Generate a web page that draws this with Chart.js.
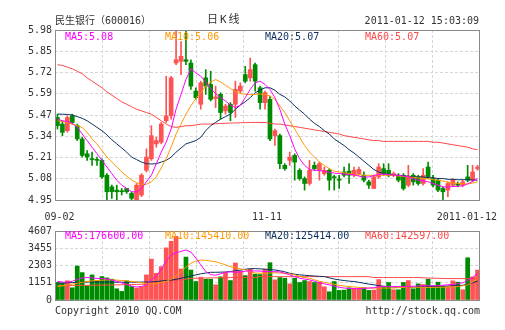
<!DOCTYPE html>
<html>
<head>
<meta charset="utf-8">
<script src="https://cdn.jsdelivr.net/npm/chart.js@4.4.1/dist/chart.umd.min.js"></script>
<style>
  body { margin: 0; width: 505px; height: 330px; overflow: hidden; position: relative; background: #fff;
         font: 10px 'DejaVu Sans Mono', 'Noto Sans CJK SC', monospace; color: #333; }
  canvas { position: absolute; left: 0; }
  #kline { top: 0; }
  #vol { top: 220px; }
  .t { position: absolute; white-space: nowrap; line-height: 12px; }
</style>
</head>
<body>
<canvas id="kline" width="505" height="225"></canvas>
<canvas id="vol" width="505" height="110"></canvas>

<div class="t" style="left:55px;top:15px;">民生银行（600016）</div>
<div class="t" style="left:207px;top:14px;font-size:11px;letter-spacing:2px;">日K线</div>
<div class="t" style="right:26px;top:15px;">2011-01-12 15:03:09</div>
<div class="t" style="left:55px;top:305px;">Copyright 2010 QQ.COM</div>
<div class="t" style="right:25px;top:305px;">http://stock.qq.com</div>
<div id="legendK"></div>
<div id="legendV"></div>

<script>
// trading days 2010-09-02 .. 2011-01-12
const dates = [
  '09-02','09-03','09-06','09-07','09-08','09-09','09-10','09-13','09-14','09-15',
  '09-16','09-17','09-20','09-21','09-27','09-28','09-29','09-30','10-08','10-11',
  '10-12','10-13','10-14','10-15','10-18','10-19','10-20','10-21','10-22','10-25',
  '10-26','10-27','10-28','10-29','11-01','11-02','11-03','11-04','11-05','11-08',
  '11-09','11-10','11-11','11-12','11-15','11-16','11-17','11-18','11-19','11-22',
  '11-23','11-24','11-25','11-26','11-29','11-30','12-01','12-02','12-03','12-06',
  '12-07','12-08','12-09','12-10','12-13','12-14','12-15','12-16','12-17','12-20',
  '12-21','12-22','12-23','12-24','12-27','12-28','12-29','12-30','12-31','01-04',
  '01-05','01-06','01-07','01-10','01-11','01-12'
];

const open = [
  5.45,5.41,5.37,5.46,5.40,5.32,5.23,5.20,5.195,5.19, 5.10,5.03,5.01,5.005,5.02,4.99,4.95,4.98,5.13,5.20,
  5.29,5.30,5.43,5.46,5.78,5.79,5.80,5.78,5.61,5.53, 5.69,5.65,5.565,5.59,5.49,5.53,5.53,5.61,5.71,5.69,
  5.77,5.63,5.54,5.56,5.34,5.34,5.16,5.19,5.22,5.13, 5.08,5.05,5.16,5.13,5.11,5.13,5.09,5.075,5.12,5.125,
  5.10,5.11,5.10,5.06,5.02,5.09,5.14,5.13,5.10,5.10, 5.10,5.04,5.10,5.09,5.05,5.15,5.08,5.07,5.02,5.01,
  5.04,5.05,5.04,5.09,5.07,5.14
];
const high = [
  5.47,5.43,5.46,5.47,5.41,5.33,5.25,5.24,5.21,5.20, 5.11,5.04,5.04,5.02,5.02,5.00,5.05,5.11,5.26,5.40,
  5.33,5.42,5.70,5.70,5.98,5.91,5.98,5.80,5.63,5.67, 5.74,5.73,5.64,5.60,5.53,5.54,5.67,5.66,5.76,5.81,
  5.78,5.64,5.61,5.58,5.38,5.35,5.17,5.24,5.23,5.14, 5.09,5.19,5.18,5.18,5.15,5.14,5.10,5.10,5.15,5.17,
  5.15,5.15,5.12,5.07,5.10,5.17,5.17,5.17,5.12,5.11, 5.11,5.16,5.11,5.10,5.14,5.18,5.10,5.08,5.03,5.06,
  5.08,5.06,5.07,5.16,5.16,5.16
];
const low = [
  5.38,5.34,5.36,5.41,5.31,5.21,5.19,5.16,5.16,5.08, 4.95,4.96,4.95,4.98,4.99,4.95,4.95,4.97,5.12,5.19,
  5.27,5.29,5.42,5.44,5.77,5.71,5.77,5.62,5.56,5.50, 5.59,5.55,5.51,5.44,5.47,5.43,5.45,5.60,5.66,5.67,
  5.61,5.50,5.50,5.31,5.28,5.14,5.13,5.16,5.07,5.07, 5.01,5.04,5.13,5.07,5.10,5.01,5.01,5.02,5.09,5.05,
  5.09,5.10,5.06,5.02,5.02,5.08,5.10,5.09,5.09,5.06, 5.01,5.03,5.04,5.04,5.04,5.08,5.03,5.00,4.95,4.97,
  5.03,5.03,5.03,5.06,5.06,5.13
];
const close = [
  5.40,5.36,5.45,5.42,5.32,5.22,5.21,5.195,5.19,5.09, 5.00,5.00,5.00,5.00,5.00,4.96,5.04,5.10,5.21,5.34,
  5.31,5.41,5.46,5.69,5.80,5.82,5.79,5.64,5.57,5.66, 5.64,5.56,5.575,5.48,5.52,5.48,5.62,5.64,5.67,5.74,
  5.67,5.54,5.60,5.32,5.37,5.17,5.14,5.21,5.18,5.08, 5.05,5.13,5.14,5.17,5.13,5.07,5.085,5.07,5.10,5.10,
  5.13,5.135,5.07,5.04,5.09,5.15,5.11,5.10,5.11,5.07, 5.02,5.09,5.06,5.05,5.10,5.09,5.04,5.01,5.00,5.05,
  5.07,5.04,5.06,5.07,5.12,5.15
];

// volume, 100 lots
const volume = [
  1170,1120,1280,815,2270,1830,950,1675,1280,1565, 1475,1390,750,575,1280,900,795,900,1675,2730,
  1785,2225,3480,3920,4250,2070,2865,2000,1235,1520, 1390,1390,1015,1545,1830,1300,2470,1940,1630,2050,
  1720,1700,2050,2490,1345,1500,1455,1080,1455,1170, 1300,1235,1170,1190,880,550,1235,640,660,815,
  770,770,815,640,660,1365,860,1170,685,685, 1170,1300,750,1080,1035,1390,950,1190,925,880,
  1280,1190,685,2820,1545,2000
];

const ma5 = [
  5.44,5.43,5.425,5.415,5.39,5.35,5.31,5.27,5.23,5.19, 5.15,5.11,5.07,5.04,5.02,5.00,4.998,5.02,5.06,5.10,
  5.17,5.24,5.30,5.38,5.50,5.59,5.68,5.745,5.72,5.70, 5.665,5.625,5.595,5.57,5.55,5.525,5.51,5.525,5.57,5.62,
  5.66,5.67,5.65,5.62,5.57,5.50,5.41,5.34,5.26,5.20, 5.16,5.135,5.13,5.128,5.125,5.118,5.113,5.11,5.108,5.105,
  5.103,5.095,5.088,5.09,5.098,5.104,5.107,5.105,5.10,5.10, 5.095,5.09,5.078,5.07,5.065,5.06,5.05,5.04,5.03,5.028,
  5.032,5.033,5.036,5.048,5.062,5.08
];
const ma10 = [
  5.43,5.425,5.42,5.41,5.40,5.39,5.36,5.32,5.29,5.25, 5.21,5.18,5.15,5.12,5.095,5.07,5.055,5.045,5.045,5.06,
  5.09,5.145,5.20,5.27,5.35,5.41,5.47,5.52,5.565,5.60, 5.64,5.665,5.68,5.665,5.645,5.625,5.605,5.595,5.59,5.588,
  5.59,5.592,5.59,5.58,5.56,5.52,5.48,5.43,5.38,5.33, 5.28,5.24,5.21,5.18,5.16,5.14,5.125,5.12,5.115,5.11,
  5.105,5.105,5.10,5.10,5.10,5.10,5.10,5.10,5.10,5.095, 5.092,5.09,5.087,5.083,5.08,5.078,5.073,5.07,5.065,5.058,
  5.053,5.05,5.048,5.047,5.052,5.06
];
const ma20 = [
  5.47,5.47,5.468,5.465,5.455,5.445,5.43,5.41,5.39,5.37, 5.345,5.315,5.29,5.265,5.24,5.21,5.195,5.18,5.17,5.168,
  5.17,5.18,5.19,5.21,5.24,5.265,5.29,5.30,5.31,5.33, 5.37,5.40,5.42,5.44,5.455,5.47,5.50,5.525,5.545,5.57,
  5.60,5.615,5.63,5.63,5.615,5.59,5.575,5.55,5.52,5.495, 5.47,5.44,5.415,5.395,5.37,5.35,5.32,5.30,5.28,5.255,
  5.235,5.21,5.185,5.16,5.135,5.12,5.11,5.105,5.10,5.10, 5.095,5.095,5.09,5.09,5.09,5.085,5.085,5.08,5.08,5.075,
  5.075,5.073,5.073,5.073,5.072,5.07
];
const ma60 = [
  5.77,5.765,5.755,5.745,5.73,5.715,5.69,5.67,5.65,5.63, 5.605,5.585,5.565,5.545,5.53,5.515,5.50,5.49,5.48,5.47,
  5.45,5.43,5.41,5.395,5.39,5.395,5.40,5.40,5.405,5.41, 5.41,5.41,5.412,5.414,5.415,5.416,5.417,5.418,5.419,5.42,
  5.42,5.42,5.42,5.415,5.41,5.41,5.405,5.40,5.395,5.39, 5.385,5.38,5.375,5.37,5.365,5.36,5.355,5.35,5.34,5.335,
  5.33,5.325,5.32,5.315,5.31,5.31,5.305,5.305,5.305,5.305, 5.305,5.305,5.305,5.305,5.305,5.305,5.30,5.30,5.295,5.29,
  5.285,5.28,5.275,5.27,5.26,5.255
];

const vma5 = [
  1235,1200,1180,1250,1380,1480,1500,1470,1440,1430, 1400,1330,1250,1140,1050,930,870,900,1020,1350,
  1600,2050,2600,3000,3150,3250,3340,3200,2800,2350, 1900,1700,1650,1750,1850,1880,1850,1880,1920,1940,
  1940,1930,1900,1895,1890,1880,1780,1680,1560,1455, 1400,1345,1250,1150,1080,1015,930,850,800,770,
  750,760,780,795,820,880,905,905,905,905, 905,905,920,940,950,950,950,960,990,1015,
  1040,1080,1150,1300,1500,1766
];
const vma10 = [
  905,950,1000,1060,1120,1180,1240,1280,1300,1320, 1345,1345,1330,1300,1270,1240,1200,1150,1100,1080,
  1100,1180,1235,1400,1600,1900,2200,2450,2600,2665, 2650,2600,2555,2450,2350,2225,2150,2080,2005,1900,
  1800,1790,1785,1800,1820,1800,1785,1740,1680,1580, 1500,1455,1350,1250,1180,1125,1050,980,930,905,
  870,840,810,795,795,795,795,795,800,820, 840,860,860,850,840,840,845,850,860,860,
  870,900,950,1015,1200,1454
];
const vma20 = [
  1125,1140,1150,1160,1170,1190,1200,1210,1210,1200, 1200,1195,1190,1190,1190,1190,1190,1195,1200,1210,
  1230,1270,1300,1330,1380,1455,1530,1600,1675,1750, 1800,1850,1850,1860,1870,1900,1950,2000,2050,2095,
  2095,2080,2060,2030,2005,1950,1880,1785,1720,1680, 1650,1630,1600,1580,1565,1480,1400,1345,1300,1260,
  1235,1180,1120,1060,1015,960,920,890,860,860, 860,860,860,870,880,890,905,910,920,935,
  950,960,980,1060,1150,1254
];
const vma60 = [
  950,955,960,965,970,975,980,985,990,995, 1000,1005,1010,1015,1020,1030,1040,1050,1065,1080,
  1200,1250,1290,1300,1320,1350,1400,1440,1455,1460, 1470,1475,1480,1485,1490,1495,1500,1500,1500,1500,
  1500,1560,1560,1560,1560,1560,1560,1560,1560,1560, 1560,1560,1560,1560,1560,1560,1560,1560,1560,1560,
  1560,1560,1560,1560,1500,1500,1500,1500,1500,1500, 1500,1500,1500,1500,1480,1470,1460,1450,1440,1430,
  1430,1430,1426,1426,1426,1426
];

const priceTickLabels = ['4.95','5.08','5.21','5.34','5.47','5.59','5.72','5.85','5.98'];
const volTickLabels = ['0','1151','2303','3455','4607'];
const xLabelIdx = [0, 42, 85];
const xLabelText = ['09-02', '11-11', '2011-01-12'];

const maNames = ['MA5', 'MA10', 'MA20', 'MA60'];
const maColors = ['#ff00ff', '#ff9900', '#0d2f5e', '#ff4848'];
const maPriceText = ['5.08', '5.06', '5.07', '5.07'];
const maVolText = ['176600.00', '145410.00', '125414.00', '142597.00'];

const UP = '#ff5252';
const DOWN = '#008c00';
const FONT = "'DejaVu Sans Mono', 'Noto Sans CJK SC', monospace";

const candleColors = close.map((c, i) => (c >= open[i] ? UP : DOWN));

// legend rows over both panels
function legendRow(el, texts, top) {
  el.innerHTML = maNames.map((n, k) =>
    `<div class="t" style="left:${65 + k * 100}px;top:${top}px;color:${maColors[k]}">${n}:${texts[k]}</div>`
  ).join('');
}
legendRow(document.getElementById('legendK'), maPriceText, 31);
legendRow(document.getElementById('legendV'), maVolText, 230);

const frame = {
  id: 'frame',
  afterDatasetsDraw(chart) {
    const { ctx, chartArea: a } = chart;
    ctx.save();
    ctx.strokeStyle = '#8a8a8a';
    ctx.lineWidth = 1;
    ctx.strokeRect(a.left + 0.5, a.top + 0.5, a.right - a.left - 1, a.bottom - a.top);
    ctx.restore();
  }
};

const dateLabels = {
  id: 'dateLabels',
  afterDraw(chart) {
    const { ctx, chartArea: a } = chart;
    const x = chart.scales.x;
    ctx.save();
    ctx.font = '10px ' + FONT;
    ctx.fillStyle = '#333';
    ctx.textBaseline = 'middle';
    xLabelIdx.forEach((idx, k) => {
      const last = k === xLabelIdx.length - 1;
      ctx.textAlign = last ? 'right' : 'center';
      const px = last ? a.right + 17 : x.getPixelForValue(idx) + 2;
      ctx.fillText(xLabelText[k], px, a.bottom + 17);
    });
    ctx.restore();
  }
};

function lineSet(data, k) {
  return {
    type: 'line', data, borderColor: maColors[k], borderWidth: 1,
    pointRadius: 0, tension: 0, order: 0
  };
}

const vGrid = {
  type: 'linear', position: 'bottom', min: 0, max: 8,
  ticks: { display: false, stepSize: 1 },
  grid: { color: '#d6d6d6', drawTicks: false },
  border: { display: false, dash: [3, 2] },
  afterFit: s => { s.height = 0; }
};

function yAxis(min, max, labels, width) {
  return {
    min, max,
    afterBuildTicks: s => {
      s.ticks = labels.map((_, k) => ({ value: min + k * (max - min) / (labels.length - 1) }));
    },
    afterFit: s => { s.width = width; },
    ticks: {
      callback: (v, i) => labels[i],
      font: { family: FONT, size: 10 }, color: '#333', padding: 3
    },
    grid: { color: '#d6d6d6', drawTicks: false },
    border: { display: false, dash: [3, 2] }
  };
}

new Chart(document.getElementById('kline'), {
  type: 'bar',
  data: {
    labels: dates,
    datasets: [
      lineSet(ma5, 0), lineSet(ma10, 1), lineSet(ma20, 2), lineSet(ma60, 3),
      {
        data: open.map((o, i) => [o, close[i]]), backgroundColor: candleColors,
        grouped: false, barThickness: 4, minBarLength: 1, order: 1
      },
      {
        data: low.map((l, i) => [l, high[i]]), backgroundColor: candleColors,
        grouped: false, barThickness: 1, order: 2
      }
    ]
  },
  options: {
    responsive: false, animation: false,
    layout: { padding: { top: 30, right: 25, bottom: 25, left: 0 } },
    plugins: { legend: { display: false }, tooltip: { enabled: false } },
    scales: {
      x: { display: false, offset: true },
      xg: vGrid,
      y: yAxis(4.95, 5.98, priceTickLabels, 55)
    }
  },
  plugins: [frame, dateLabels]
});

new Chart(document.getElementById('vol'), {
  type: 'bar',
  data: {
    labels: dates,
    datasets: [
      lineSet(vma5, 0), lineSet(vma10, 1), lineSet(vma20, 2), lineSet(vma60, 3),
      { data: volume, backgroundColor: candleColors, barThickness: 4, order: 1 }
    ]
  },
  options: {
    responsive: false, animation: false,
    layout: { padding: { top: 11, right: 25, bottom: 30, left: 0 } },
    plugins: { legend: { display: false }, tooltip: { enabled: false } },
    scales: {
      x: { display: false, offset: true },
      xg: vGrid,
      y: yAxis(0, 4607, volTickLabels, 55)
    }
  },
  plugins: [frame]
});
</script>
</body>
</html>
